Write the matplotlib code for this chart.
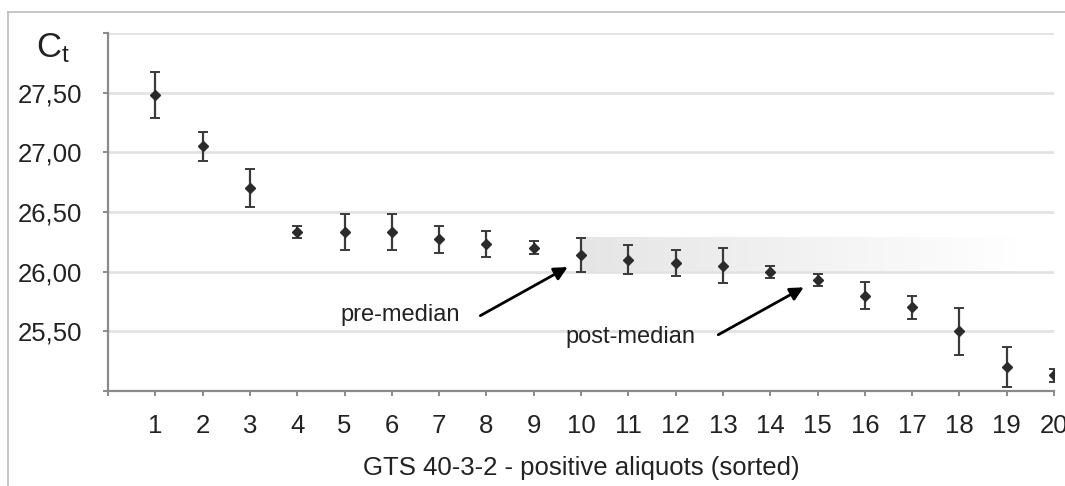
import numpy as np
import matplotlib
matplotlib.use('Agg')
import matplotlib.pyplot as plt
from matplotlib.lines import Line2D

# Ct means and error ranges
aliquots = list(range(1, 21))
ct_mean = [27.48, 27.05, 26.70, 26.33, 26.33, 26.33, 26.27, 26.23, 26.20, 26.14,
           26.10, 26.07, 26.05, 26.00, 25.93, 25.80, 25.70, 25.50, 25.20, 25.13]
ct_err = [0.19, 0.12, 0.16, 0.05, 0.15, 0.15, 0.11, 0.11, 0.055, 0.145,
          0.12, 0.11, 0.145, 0.05, 0.05, 0.115, 0.095, 0.195, 0.17, 0.055]
y_ticks = [25.0, 25.5, 26.0, 26.5, 27.0, 27.5, 28.0]
y_labels = ['', '25,50', '26,00', '26,50', '27,00', '27,50', '']
x_labels = [''] + [str(i) for i in aliquots]

plt.rcParams['font.family'] = ['Liberation Sans', 'DejaVu Sans']

fig = plt.figure(figsize=(10.65, 4.86), dpi=100)
ax = fig.add_axes([0.1014, 0.1955, 0.8883, 0.7365])

# shaded median band fading to the right
grad = np.ones((2, 256, 4))
grad[..., :3] = 0.90
grad[..., 3] = np.linspace(1, 0, 256)
ax.imshow(grad, extent=[10, 19.3, 26.0, 26.29], aspect='auto',
          interpolation='bilinear', zorder=1)

ax.errorbar(aliquots, ct_mean, yerr=ct_err, fmt='D', ms=5.5, color='#2b2b2b',
            ecolor='#3a3a3a', elinewidth=1.6, capsize=3.5, capthick=1.4, zorder=3)

ax.set_xlim(0, 20)
ax.set_ylim(25, 28)
ax.set_yticks(y_ticks)
ax.set_yticklabels(y_labels)
ax.set_xticks(range(0, 21))
ax.set_xticklabels(x_labels)
ax.grid(axis='y', color='#e2e2e2', lw=2)
ax.set_axisbelow(True)
for s in ['top', 'right']:
    ax.spines[s].set_visible(False)
for s in ['left', 'bottom']:
    ax.spines[s].set_color('#8a8a8a')
    ax.spines[s].set_linewidth(1.6)
ax.tick_params(axis='both', direction='out', length=3.5, width=1.4,
               color='#8a8a8a', labelsize=18.5, labelcolor='#222222')
ax.tick_params(axis='y', pad=15)
ax.tick_params(axis='x', pad=13)

ax.annotate('', xy=(9.77, 26.05), xytext=(7.82, 25.62),
            arrowprops=dict(arrowstyle='-|>', lw=2, color='black', mutation_scale=20))
ax.text(6.17, 25.64, 'pre-median', fontsize=17, color='#222222', ha='center', va='center')
ax.annotate('', xy=(14.76, 25.88), xytext=(12.85, 25.46),
            arrowprops=dict(arrowstyle='-|>', lw=2, color='black', mutation_scale=20))
ax.text(11.04, 25.45, 'post-median', fontsize=17, color='#222222', ha='center', va='center')

fig.text(0.5455, 0.037, 'GTS 40-3-2 - positive aliquots (sorted)', fontsize=18.5,
         color='#222222', ha='center', va='center')
fig.text(0.05, 0.9, r'$\mathregular{C_t}$', fontsize=25, color='#222222',
         ha='center', va='center')

# thin frame round the figure (top and left edges)
fig.add_artist(Line2D([8 / 1065, 1], [1 - 12 / 486] * 2, transform=fig.transFigure,
                      color='#bbbbbb', lw=1.2))
fig.add_artist(Line2D([8 / 1065] * 2, [0, 1 - 12 / 486], transform=fig.transFigure,
                      color='#bbbbbb', lw=1.2))

fig.savefig('out.png', dpi=100)
